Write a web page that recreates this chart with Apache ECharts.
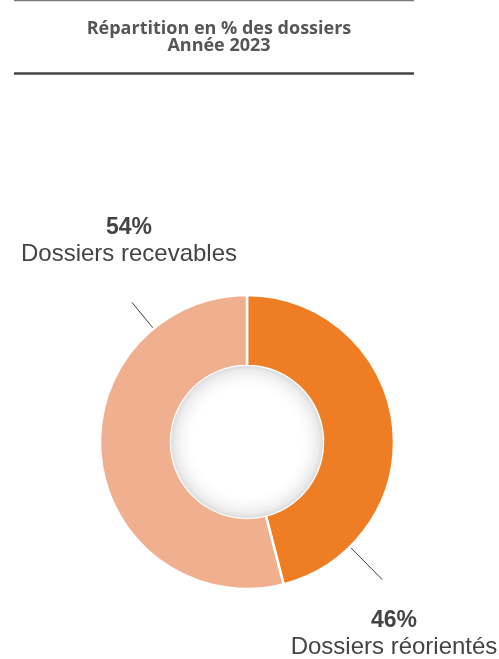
<!DOCTYPE html>
<html>
<head>
<meta charset="utf-8">
<title>Répartition en % des dossiers – Année 2023</title>
<script src="https://cdn.jsdelivr.net/npm/echarts@6/dist/echarts.min.js"></script>
<style>
  html, body { margin: 0; padding: 0; background: #ffffff; }
  #chart { width: 499px; height: 659px; }
</style>
</head>
<body>
<div id="chart"></div>
<script>
// Share of files by outcome, 2023
const categories = ['Dossiers réorientés', 'Dossiers recevables'];
const shares = [46, 54];
const colors = ['#EE7D23', '#F0AF8E'];
const titleLines = ['Répartition en % des dossiers', 'Année 2023'];

// Ring geometry (pixels)
const CX = 247, CY = 442;
const R_IN = 76, R_OUT = 147;
// Direction (degrees, screen clockwise from east) and length of each leader line
const leaderAngle = [45.5, 230.5];
const leaderLen = [46, 34];
// Where each label block is anchored (top-centre)
const labelAnchor = [[394, 608], [129, 215]];

const chart = echarts.init(document.getElementById('chart'), null, { renderer: 'canvas' });

function leaderPoints(i) {
  const a = leaderAngle[i] * Math.PI / 180;
  const r0 = R_OUT + 1, r1 = R_OUT + leaderLen[i];
  return [
    [CX + r1 * Math.cos(a), CY + r1 * Math.sin(a)],
    [CX + r0 * Math.cos(a), CY + r0 * Math.sin(a)]
  ];
}

chart.setOption({
  backgroundColor: '#ffffff',
  animation: false,
  title: {
    text: titleLines.join('\n'),
    left: 214,
    top: 15,
    textAlign: 'center',
    textStyle: {
      fontFamily: 'Open Sans',
      fontWeight: 'bold',
      fontSize: 18,
      lineHeight: 17,
      color: '#565656'
    }
  },
  graphic: [
    { type: 'line', shape: { x1: 14, y1: 0.5, x2: 414, y2: 0.5 }, style: { stroke: '#7a7a7a', lineWidth: 1.5 } },
    { type: 'line', shape: { x1: 14, y1: 73.5, x2: 414, y2: 73.5 }, style: { stroke: '#444444', lineWidth: 2.5 } },
    // soft inner shading of the ring's hole
    {
      type: 'circle', z: 10,
      shape: { cx: CX, cy: CY, r: R_IN },
      style: {
        fill: {
          type: 'radial', x: 0.5, y: 0.5, r: 0.5,
          colorStops: [
            { offset: 0, color: '#ffffff' },
            { offset: 0.72, color: '#ffffff' },
            { offset: 0.84, color: '#f8f8f8' },
            { offset: 0.94, color: '#ececec' },
            { offset: 1, color: '#dcdcdc' }
          ]
        }
      }
    }
  ],
  series: [{
    type: 'pie',
    center: [CX, CY],
    radius: [R_IN, R_OUT],
    startAngle: 90,
    clockwise: true,
    data: categories.map((name, i) => ({ name, value: shares[i], itemStyle: { color: colors[i] } })),
    itemStyle: { borderColor: '#ffffff', borderWidth: 2.5 },
    emphasis: { disabled: true },
    label: {
      show: true,
      position: 'outside',
      overflow: 'none',
      formatter: '{p|{c}%}\n{n|{b}}',
      rich: {
        p: { fontFamily: 'Liberation Sans', fontWeight: 'bold', fontSize: 23, lineHeight: 26, color: '#444444', align: 'center' },
        n: { fontFamily: 'Liberation Sans', fontSize: 24, lineHeight: 26, color: '#444444', align: 'center' }
      }
    },
    labelLine: { show: true, lineStyle: { color: '#404040', width: 1 } },
    labelLayout: function (params) {
      const i = params.dataIndex;
      return {
        x: labelAnchor[i][0],
        y: labelAnchor[i][1],
        width: 240,
        align: 'center',
        verticalAlign: 'top',
        labelLinePoints: leaderPoints(i)
      };
    }
  }]
});
</script>
</body>
</html>
